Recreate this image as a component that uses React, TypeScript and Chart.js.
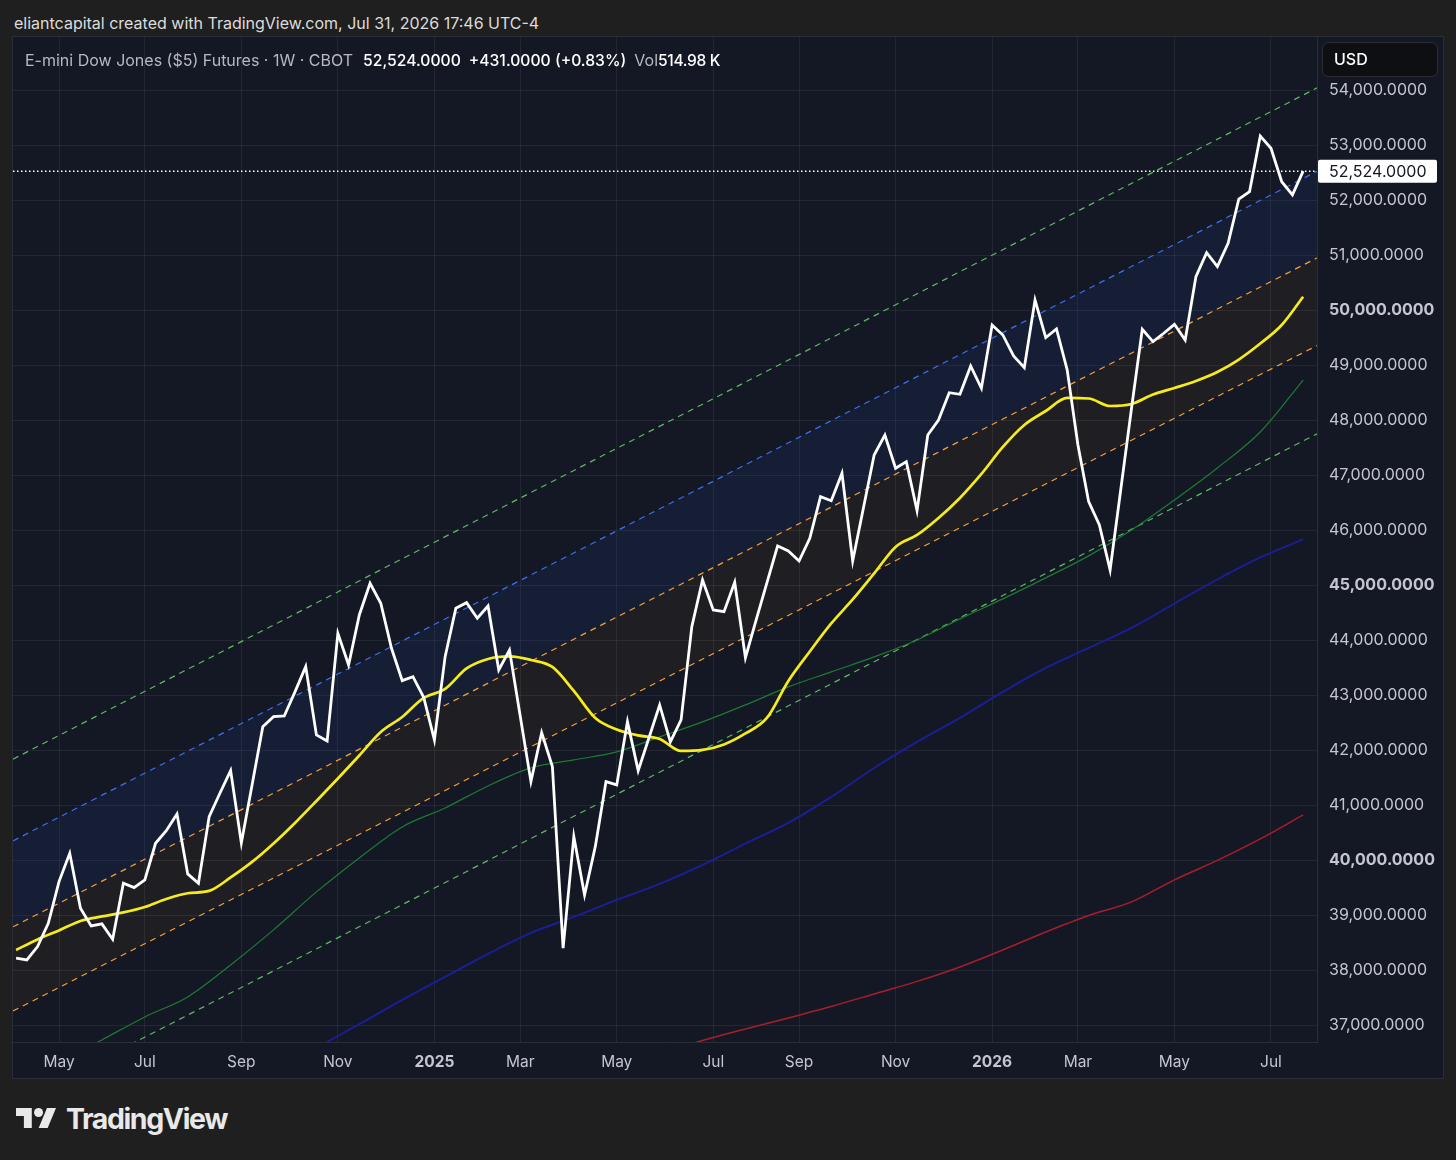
import React, { useEffect, useRef } from "react";
import { Chart, registerables } from "chart.js";

Chart.register(...registerables);

const FONT = "Inter, 'Noto Sans', 'DejaVu Sans', sans-serif";

// Weekly closes, first bar = week of 2024-04-08, last bar = week of 2026-07-27
const closes = [
  38214, 38183, 38425, 38850, 39607, 40123, 39123, 38801, 38838, 38560,
  39578, 39498, 39638, 40305, 40534, 40838, 39747, 39578, 40789, 41214,
  41625, 40310, 41365, 42425, 42607, 42619, 43056, 43516, 42274, 42165,
  44123, 43546, 44455, 45032, 44668, 43850, 43261, 43334, 42959, 42183,
  43697, 44577, 44679, 44395, 44619, 43456, 43819, 42619, 41425, 42316,
  41698, 38396, 40425, 39365, 40243, 41425, 41365, 42516, 41625, 42219,
  42819, 42147, 42547, 44243, 45092, 44546, 44516, 45050, 43679, 44365,
  45037, 45710, 45619, 45437, 45850, 46606, 46533, 47032, 45437, 46401,
  47364, 47728, 47123, 47243, 46352, 47728, 48001, 48497, 48468, 48982,
  48577, 49728, 49546, 49164, 48951, 50182, 49497, 49655, 48910, 47546,
  46515, 46092, 45274, 46746, 48219, 49650, 49424, 49578, 49740, 49455,
  50606, 51042, 50788, 51213, 52018, 52151, 53164, 52940, 52333, 52093,
  52524,
];

const monthTickWeeks = [4, 12, 21, 30, 39, 47, 56, 65, 73, 82, 91, 99, 108, 117];
const monthTickLabels = ["May", "Jul", "Sep", "Nov", "2025", "Mar", "May", "Jul", "Sep", "Nov", "2026", "Mar", "May", "Jul"];

const yellowWeeks = [
  0, 2, 4, 6, 8, 10, 12, 14, 16, 18, 20, 22, 24, 26, 28, 30, 32, 34, 36, 38,
  40, 42, 44, 46, 48, 50, 52, 54, 56, 58, 60, 62, 64, 66, 68, 70, 72, 74, 76, 78,
  80, 82, 84, 86, 88, 90, 92, 94, 96, 98, 100, 102, 104, 106, 108, 110, 112, 114, 116, 118, 120,
];
const yellowValues = [
  38365, 38556, 38720, 38892, 38974, 39047, 39147, 39292, 39396, 39438,
  39683, 39965, 40301, 40674, 41074, 41483, 41901, 42328, 42601, 42947,
  43110, 43483, 43656, 43701, 43637, 43510, 43074, 42583, 42374, 42265,
  42201, 41983, 42001, 42101, 42301, 42583, 43256, 43792, 44301, 44737,
  45210, 45692, 45910, 46219, 46583, 47019, 47510, 47910, 48164, 48401,
  48391, 48255, 48291, 48464, 48582, 48710, 48873, 49100, 49391, 49728, 50242,
];

const greenMaWeeks = [4, 8, 12, 16, 20, 24, 28, 32, 36, 40, 44, 48, 52, 56, 60, 64, 68, 72, 76, 80, 84, 88, 92, 96, 100, 104, 108, 112, 116, 120];
const greenMaValues = [
  36311, 36729, 37147, 37511, 38092, 38729, 39420, 40038, 40602, 40947,
  41347, 41674, 41820, 41965, 42238, 42511, 42820, 43147, 43420, 43693,
  44001, 44385, 44748, 45130, 45530, 46001, 46547, 47129, 47782, 48727,
];

const blueMaWeeks = [28, 32, 36, 40, 44, 48, 52, 56, 60, 64, 68, 72, 76, 80, 84, 88, 92, 96, 100, 104, 108, 112, 116, 120];
const blueMaValues = [
  36584, 37016, 37456, 37875, 38293, 38675, 38965, 39274, 39565, 39911,
  40300, 40674, 41147, 41674, 42147, 42584, 43056, 43493, 43856, 44220,
  44664, 45100, 45501, 45828,
];

const redMaWeeks = [60, 64, 68, 72, 76, 80, 84, 88, 92, 96, 100, 104, 108, 112, 116, 120];
const redMaValues = [
  36474, 36720, 36929, 37129, 37338, 37565, 37793, 38056, 38365, 38692,
  38992, 39238, 39640, 39992, 40383, 40819,
];

// Parallel channel lines: values at week 0 and week 120
const channelWeeks = [0, 120];
const channelOuterUpper = [41863, 53909];
const channelUpper = [40377, 52393];
const channelMidUpper = [38814, 50818];
const channelMidLower = [37283, 49224];
const channelOuterLower = [35575, 47619];

const yTickValues = [
  37000, 38000, 39000, 40000, 41000, 42000, 43000, 44000, 45000,
  46000, 47000, 48000, 49000, 50000, 51000, 52000, 53000, 54000,
];

const X_MIN = -0.29;
const X_MAX = 121.29;
const Y_MIN = 36691;
const Y_MAX = 54964;
const LAST_PRICE = 52524;

const BG = "#141824";
const GRID = "rgba(255,255,255,0.065)";
const BORDER = "#2a2e39";
const LABEL = "#c3c6ce";

const fmt = (v: number) =>
  v.toLocaleString("en-US", { minimumFractionDigits: 4, maximumFractionDigits: 4 });

const pairs = (weeks: number[], vals: number[]) => weeks.map((w, i) => ({ x: w, y: vals[i] }));

const extendLine = (vals: number[]) => {
  const [w0, w1] = channelWeeks;
  const at = (w: number) => vals[0] + ((vals[1] - vals[0]) * (w - w0)) / (w1 - w0);
  return [
    { x: X_MIN, y: at(X_MIN) },
    { x: X_MAX, y: at(X_MAX) },
  ];
};

const priceLinePlugin = {
  id: "priceLine",
  afterDatasetsDraw(chart: any) {
    const { ctx, chartArea } = chart;
    const y = chart.scales.y.getPixelForValue(LAST_PRICE);
    ctx.save();
    ctx.strokeStyle = "#ffffff";
    ctx.lineWidth = 1.5;
    ctx.setLineDash([1.5, 2.5]);
    ctx.beginPath();
    ctx.moveTo(chartArea.left, y);
    ctx.lineTo(chartArea.right, y);
    ctx.stroke();
    ctx.restore();
  },
  afterDraw(chart: any) {
    const { ctx, chartArea } = chart;
    const y = chart.scales.y.getPixelForValue(LAST_PRICE);
    const r = chartArea.right;
    ctx.save();
    // price label
    ctx.fillStyle = "#ffffff";
    ctx.beginPath();
    ctx.roundRect(r + 1, y - 11.5, 119, 23, 2);
    ctx.fill();
    ctx.fillStyle = "#131722";
    ctx.font = `16px ${FONT}`;
    ctx.textBaseline = "middle";
    ctx.textAlign = "left";
    ctx.fillText(fmt(LAST_PRICE), r + 12, y + 1);
    // currency box
    ctx.fillStyle = "#0e0f12";
    ctx.strokeStyle = "#2c2e33";
    ctx.lineWidth = 1;
    ctx.beginPath();
    ctx.roundRect(r + 5.5, 5.5, 115, 34, 6);
    ctx.fill();
    ctx.stroke();
    ctx.fillStyle = "#ffffff";
    ctx.font = `500 16px ${FONT}`;
    ctx.fillText("USD", r + 17, 23);
    ctx.restore();
  },
};

function PriceChart() {
  const ref = useRef<HTMLCanvasElement | null>(null);
  useEffect(() => {
    if (!ref.current) return;
    const dashed = (color: string) => ({
      borderColor: color,
      borderWidth: 1.2,
      borderDash: [6, 5],
      pointRadius: 0,
      tension: 0,
    });
    const chart = new Chart(ref.current, {
      type: "line",
      data: {
        datasets: [
          {
            data: closes.map((v, i) => ({ x: i, y: v })),
            borderColor: "#ffffff",
            borderWidth: 2.8,
            pointRadius: 0,
            tension: 0,
            fill: false,
          },
          {
            data: pairs(yellowWeeks, yellowValues),
            borderColor: "#f6ec1c",
            borderWidth: 2.7,
            pointRadius: 0,
            cubicInterpolationMode: "monotone",
            fill: false,
          },
          {
            data: pairs(greenMaWeeks, greenMaValues),
            borderColor: "#1f7a33",
            borderWidth: 1.2,
            pointRadius: 0,
            cubicInterpolationMode: "monotone",
            fill: false,
          },
          {
            data: pairs(blueMaWeeks, blueMaValues),
            borderColor: "#1c1e98",
            borderWidth: 1.9,
            pointRadius: 0,
            cubicInterpolationMode: "monotone",
            fill: false,
          },
          {
            data: pairs(redMaWeeks, redMaValues),
            borderColor: "#a81e2c",
            borderWidth: 1.5,
            pointRadius: 0,
            cubicInterpolationMode: "monotone",
            fill: false,
          },
          { data: extendLine(channelOuterUpper), ...dashed("#5fb865"), fill: false },
          {
            data: extendLine(channelUpper),
            ...dashed("#3d6ff0"),
            fill: { target: 7 },
            backgroundColor: "rgba(41,98,255,0.08)",
          },
          {
            data: extendLine(channelMidUpper),
            ...dashed("#f7a137"),
            fill: { target: 8 },
            backgroundColor: "rgba(255,152,0,0.05)",
          },
          { data: extendLine(channelMidLower), ...dashed("#f7a137"), fill: false },
          { data: extendLine(channelOuterLower), ...dashed("#5fb865"), fill: false },
        ] as any,
      },
      options: {
        animation: false,
        responsive: false,
        maintainAspectRatio: false,
        layout: { padding: 0 },
        events: [],
        plugins: {
          legend: { display: false },
          tooltip: { enabled: false },
          filler: { drawTime: "beforeDatasetsDraw" },
        } as any,
        elements: { point: { radius: 0 } },
        scales: {
          x: {
            type: "linear",
            position: "bottom",
            min: X_MIN,
            max: X_MAX,
            bounds: "data",
            afterBuildTicks: (axis: any) => {
              axis.ticks = monthTickWeeks.map((v) => ({ value: v }));
            },
            afterFit: (axis: any) => {
              axis.height = 36;
              axis.paddingLeft = 0;
              axis.paddingRight = 0;
              axis.paddingTop = 0;
              axis.paddingBottom = 0;
            },
            ticks: {
              autoSkip: false,
              maxRotation: 0,
              minRotation: 0,
              padding: 11,
              color: LABEL,
              font: (ctx: any) => ({
                family: FONT,
                size: 15.5,
                weight: /^\d{4}$/.test(monthTickLabels[ctx.index] || "") ? "bold" : "normal",
              }),
              callback: (_v: any, index: number) => monthTickLabels[index],
            },
            grid: { color: GRID, drawTicks: false, lineWidth: 1 },
            border: { color: BORDER, width: 1 },
          },
          y: {
            type: "linear",
            position: "right",
            min: Y_MIN,
            max: Y_MAX,
            bounds: "data",
            afterBuildTicks: (axis: any) => {
              axis.ticks = yTickValues.map((v) => ({ value: v }));
            },
            afterFit: (axis: any) => {
              axis.width = 126;
              axis.paddingTop = 0;
              axis.paddingBottom = 0;
              axis.paddingLeft = 0;
              axis.paddingRight = 0;
            },
            ticks: {
              autoSkip: false,
              padding: 12,
              color: LABEL,
              font: (ctx: any) => ({
                family: FONT,
                size: 16,
                weight: ctx.tick && ctx.tick.value % 5000 === 0 ? "bold" : "normal",
              }),
              callback: (v: any) => fmt(Number(v)),
            },
            grid: { color: GRID, drawTicks: false, lineWidth: 1 },
            border: { color: BORDER, width: 1 },
          },
        } as any,
      },
      plugins: [priceLinePlugin],
    });
    return () => chart.destroy();
  }, []);
  return (
    <canvas
      ref={ref}
      width={1430}
      height={1041}
      style={{ position: "absolute", left: 0, top: 0, width: 1430, height: 1041 }}
    />
  );
}

function Logo() {
  return (
    <div style={{ position: "absolute", left: 16, top: 1104, display: "flex", alignItems: "flex-start" }}>
      <svg width={40} height={20.3} viewBox="0 4 35.5 18" style={{ marginTop: 4 }}>
        <path d="M14 22H7V11H0V4h14v18zM28 22h-8l7.5-18h8L28 22z" fill="#e9e9e9" />
        <circle cx="20" cy="8" r="4" fill="#e9e9e9" />
      </svg>
      <div
        style={{
          marginLeft: 10,
          fontFamily: FONT,
          fontWeight: 700,
          fontSize: 28.5,
          lineHeight: "29px",
          letterSpacing: -1.4,
          color: "#e9e9e9",
        }}
      >
        TradingView
      </div>
    </div>
  );
}

export default function App() {
  return (
    <div
      style={{
        position: "absolute",
        left: 0,
        top: 0,
        width: 1456,
        height: 1160,
        background: "#1f1f1f",
        overflow: "hidden",
        fontFamily: FONT,
      }}
    >
      <div
        style={{
          position: "absolute",
          left: 14,
          top: 13,
          fontSize: 16,
          lineHeight: "20px",
          color: "#dcdcdc",
          whiteSpace: "nowrap",
        }}
      >
        eliantcapital created with TradingView.com, Jul 31, 2026 17:46 UTC-4
      </div>
      <div
        style={{
          position: "absolute",
          left: 12,
          top: 36,
          width: 1432,
          height: 1043,
          border: `1px solid ${BORDER}`,
          boxSizing: "border-box",
          background: BG,
        }}
      >
        <PriceChart />
      </div>
      <div
        style={{
          position: "absolute",
          left: 25,
          top: 50,
          fontSize: 16,
          lineHeight: "20px",
          whiteSpace: "nowrap",
          color: "#b6b9c2",
        }}
      >
        <span>E-mini Dow Jones ($5) Futures · 1W · CBOT</span>
        <span style={{ color: "#ffffff", fontWeight: 500, fontSize: 15.7, marginLeft: 10 }}>52,524.0000</span>
        <span style={{ color: "#ffffff", fontWeight: 500, fontSize: 15.7, marginLeft: 8 }}>+431.0000 (+0.83%)</span>
        <span style={{ marginLeft: 8 }}>Vol</span>
        <span style={{ color: "#ffffff", fontWeight: 500, fontSize: 15.5, letterSpacing: -0.3 }}>514.98 K</span>
      </div>
      <Logo />
    </div>
  );
}
